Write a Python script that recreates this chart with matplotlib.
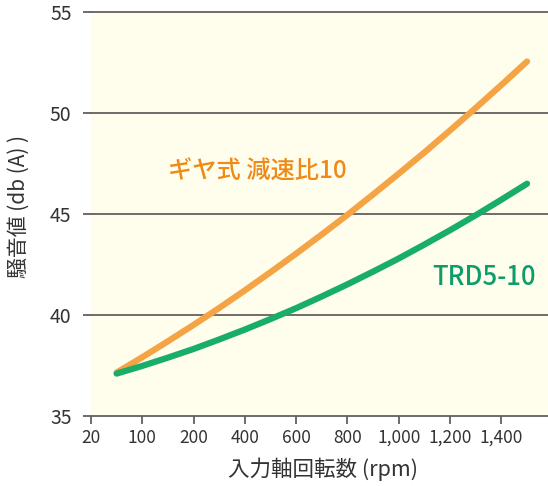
import matplotlib.pyplot as plt

plt.rcParams['font.family'] = ['Noto Sans CJK JP', 'DejaVu Sans']

# x axis is evenly spaced by tick, not by rpm
tick_labels = ["20", "100", "200", "400", "600", "800", "1,000", "1,200", "1,400"]
tick_pos = list(range(len(tick_labels)))

# curve sample positions (in tick-index units) and noise values in db(A)
curve_pos = [0.5, 1, 1.5, 2, 2.5, 3, 3.5, 4, 4.5, 5, 5.5, 6, 6.5, 7, 7.5, 8, 8.5]
gear_db = [37.15, 37.91, 38.70, 39.51, 40.35, 41.22, 42.12, 43.04, 43.99,
           44.96, 45.97, 47.00, 48.05, 49.14, 50.25, 51.39, 52.55]
trd_db = [37.10, 37.48, 37.89, 38.32, 38.79, 39.28, 39.80, 40.34, 40.92,
          41.52, 42.15, 42.80, 43.49, 44.20, 44.94, 45.71, 46.50]
y_ticks = [35, 40, 45, 50, 55]

fig = plt.figure(figsize=(5.48, 4.86), dpi=100)
ax = fig.add_axes([91 / 548, 70 / 486, 457 / 548, 404 / 486])
ax.set_facecolor("#fffdec")

ax.set_xlim(0, 457 / 51.3)
ax.set_ylim(35, 55)

# horizontal grid lines
for v in y_ticks[1:]:
    ax.axhline(v, color="#666060", lw=1.3, zorder=1, clip_on=False)

ax.plot(curve_pos, gear_db, color="#f5a445", lw=4.5, solid_capstyle="round", zorder=3)
ax.plot(curve_pos, trd_db, color="#18ad69", lw=4.5, solid_capstyle="round", zorder=3)

ax.text(1.5, 47.08, "ギヤ式 減速比10", color="#ef8a17", fontsize=17.5,
        fontweight="medium", va="center", ha="left")
ax.text(6.66, 41.88, "TRD5-10", color="#0e9c6d", fontsize=18.5,
        fontweight="medium", va="center", ha="left")

ax.set_xticks(tick_pos)
ax.set_xticklabels(tick_labels)
ax.set_yticks(y_ticks)
for s in ["top", "right", "left"]:
    ax.spines[s].set_visible(False)
ax.spines["bottom"].set_color("#666060")
ax.spines["bottom"].set_linewidth(1.3)
ax.tick_params(axis="y", length=6, width=1.3, color="#666060", pad=8,
               labelsize=14, labelcolor="#333333")
ax.tick_params(axis="x", length=6, width=1.3, color="#666060", pad=3,
               labelsize=12.5, labelcolor="#333333")

fig.text(323 / 548, 1 - 469 / 486, "入力軸回転数 (rpm)", ha="center", va="center",
         fontsize=15.5, color="#333333")
fig.text(19 / 548, 1 - 207 / 486, "騒音値 (db (A) )", ha="center", va="center",
         rotation=90, fontsize=15, color="#333333")

plt.savefig("out.png", dpi=100)
